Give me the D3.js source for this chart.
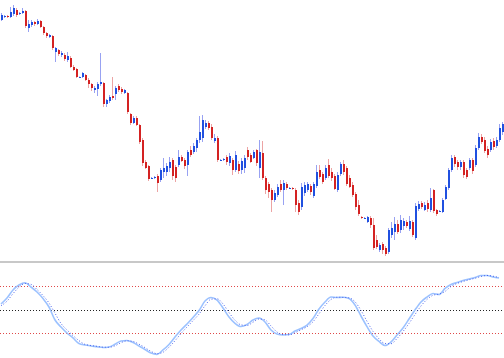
<!DOCTYPE html>
<html><head><meta charset="utf-8">
<script src="https://cdn.jsdelivr.net/npm/d3@7"></script>
<style>html,body{margin:0;padding:0;background:#fff;overflow:hidden}</style>
</head><body>
<svg id="c" width="504" height="358"></svg>
<script>
// Candle data (price units, higher = up)
const opens  = [280,283,284,283,286,290,286,287,289,272,275,278,276,279,273,267,263,264,248,250,245,245,240,242,233,231,223,223,225,220,216,210,211,216,217,196,199,204,206,214,211,207,207,186,177,182,175,160,138,134,122,122,124,120,128,128,132,140,133,135,143,140,135,150,148,152,160,162,173,177,173,159,162,140,140,143,137,140,130,136,130,132,150,145,142,150,132,147,122,116,110,100,105,116,110,116,112,112,110,97,93,107,110,114,104,114,130,126,122,135,128,124,110,126,136,132,122,115,106,95,83,82,78,82,75,60,50,56,52,48,65,68,76,70,74,78,71,78,62,91,97,90,97,90,110,90,89,88,101,112,130,143,138,133,138,130,132,140,135,152,163,160,151,150,159,154,160,168];
const highs  = [287,285,285,293,295,292,288,292,290,280,280,279,281,280,274,268,266,265,253,251,249,247,248,244,235,232,223.5,228,226,222,217,214,218,247,218,201,205,223,214,216,213,211,208,187,184,184,176,162,140,135,123,124,126,132,142,137,143,142,135,150,145,142,150,154,157,162,184,185,180,179,176,166,164,141,142,145,147,142,149,139,142,145,153,147,150,151,160,159,124,118,112,110,116,120,120,118,113,113,112,100,117,118,118,116,118,135,135,128,135,141,132,126,128,138,140,134,125,118,108,100,84,83,84,84,82,65,57,58,54,72,78,83,80,85,82,80,84,80,97,99,99,98,100,112,111,91,90,102,115,132,145,145,140,140,140,132,142,142,155,167,166,163,154,161,162,163,176,178];
const lows   = [279,282,282,282,284,283,285,286,272,268,273,274,275,272,265,262,262,250,238,244,243,239,238,232,229,222,222,222,219,212,209,207,204,214,193,193,197,200,200,208,206,206,186,175,176,174,156,134,131,119,121,121,108,118,122,124,128,120,118,133,138,131,124,143,146,148,157,158,171,170,160,157,138,139,139,135,134,125,128,126,126,127,140,137,141,134,122,120,106,102,88,98,103,108,95,110,111,110,88,85,90,104,108,105,102,112,121,116,120,122,119,110,108,124,125,114,112,103,90,84,81,81,77,72,50,51,48,46,44,46,62,60,66,67,70,72,69,63,60,89,91,89,88,88,87,84,88,87,100,110,128,133,130,130,122,121,130,126,133,150,156,147,142,148,150,152,158,165];
const closes = [285,284,283,288,292,285,287,289,274,276,278,276,279,273,267,264,265,252,252,246,247,241,244,233,230,223,223,227,220,216,212,212,216,218,196,200,203,202,212,210,208,210,188,177,182,175,158,137,132,121,122,123,117,130,132,134,138,124,122,143,139,134,148,145,154,160,168,180,177,172,162,162,140,140,141,138,144,130,145,129,139,142,143,138,148,137,148,122,110,108,100,107,113,110,117,112,112,111,95,88,113,115,116,108,116,128,123,118,132,124,122,111,125,136,128,116,113,105,93,86,82,82,83,75,52,53,55,50,46,70,72,76,68,80,79,74,79,65,94,96,93,95,91,102,89,86,89,100,113,130,142,136,133,138,125,123,140,129,152,163,158,149,145,158,153,160,172,176];

// Oscillator (0-100), one value every second candle
const oscMain = [55.9,62.4,71,76.3,78.8,74.2,68.8,61.8,52.7,38.7,31.2,24.7,19.4,13.4,11.8,10.8,10,9.1,9.7,12.6,16.1,16.7,14.5,10.8,7,3.2,1.8,6.5,12.4,20.4,28,34.4,41.4,48.9,59.1,62.9,60.2,51.6,41.9,35.2,31.7,33.9,38.7,40.9,36.6,28,23.7,22.6,23.1,26.9,29.6,33.3,40.3,50.5,58.1,63.4,62.9,63.1,61.8,54.8,43,31.5,21.5,15.6,11.3,15.1,22.6,30.1,39.8,49.5,58.1,63.4,67.2,66.1,72.6,76.9,79,81.2,82.8,84.4,86.6,86.6,84.9,83.9];
const oscSignal = [54,59,67,74,78,77,71.5,65,57,46,35,28,22,16.5,12.5,11.3,10.4,9.5,9.4,11,14.3,16.4,15.6,12.7,9,5,2.5,4,9.5,16.4,24.2,31.2,38,45,54,61,61.5,56,46.7,38.5,33.5,32.8,36.3,39.8,38.8,32.3,25.8,23.1,22.8,25,28.2,31.5,36.8,45.4,54.3,60.8,63.2,63,62.5,58.3,49,37.3,26.5,18.5,13.4,13.2,18.8,26.3,35,44.6,53.8,60.8,65.3,66.6,69.4,74.8,78,80.1,82,83.6,85.5,86.6,85.8,84.4];
const levels = [75, 50, 25];
const levelColors = ["#e04848", "#222222", "#e04848"];

const svg = d3.select("#c");
const n = closes.length;
const x = d3.scaleLinear().domain([0, n - 1]).range([1, 1 + 3 * (n - 1)]);
const y = d3.scaleLinear().domain([40, 300]).range([260, 0]);
const yo = d3.scaleLinear().domain([0, 100]).range([356, 263]);

const candles = d3.range(n).map(i => ({i, o: opens[i], h: highs[i], l: lows[i], c: closes[i], up: closes[i] >= opens[i]}));

// wicks
svg.append("g").selectAll("line").data(candles).join("line")
  .attr("x1", d => Math.round(x(d.i)) + 0.5).attr("x2", d => Math.round(x(d.i)) + 0.5)
  .attr("y1", d => y(d.h)).attr("y2", d => y(d.l))
  .attr("stroke", d => d.up ? "#98a2f2" : "#eca4a4").attr("stroke-width", 1);
// bodies
svg.append("g").selectAll("rect").data(candles).join("rect")
  .attr("x", d => Math.round(x(d.i)))
  .attr("width", 2)
  .attr("y", d => Math.min(y(d.o), y(d.c)))
  .attr("height", d => Math.max(1, Math.abs(y(d.o) - y(d.c))))
  .attr("fill", d => d.up ? "#2050e0" : "#d42222");

// separator
svg.append("rect").attr("x", 0).attr("y", 261).attr("width", 504).attr("height", 2).attr("fill", "#c8c8c8");

// levels
svg.append("g").selectAll("line").data(levels).join("line")
  .attr("x1", 0).attr("x2", 504)
  .attr("y1", d => Math.round(yo(d)) + 0.5).attr("y2", d => Math.round(yo(d)) + 0.5)
  .attr("stroke", (d, k) => levelColors[k]).attr("stroke-width", 1).attr("stroke-dasharray", "1,2");

const line = d3.line().x((d, k) => x(2 * k)).y(d => yo(d)).curve(d3.curveMonotoneX);
svg.append("path").attr("d", line(oscMain)).attr("fill", "none").attr("stroke", "#9cc2ff").attr("stroke-width", 1.6);
svg.append("path").attr("d", line(oscSignal)).attr("fill", "none").attr("stroke", "#4a62ee").attr("stroke-width", 1).attr("stroke-dasharray", "1,2");
</script>
</body></html>
